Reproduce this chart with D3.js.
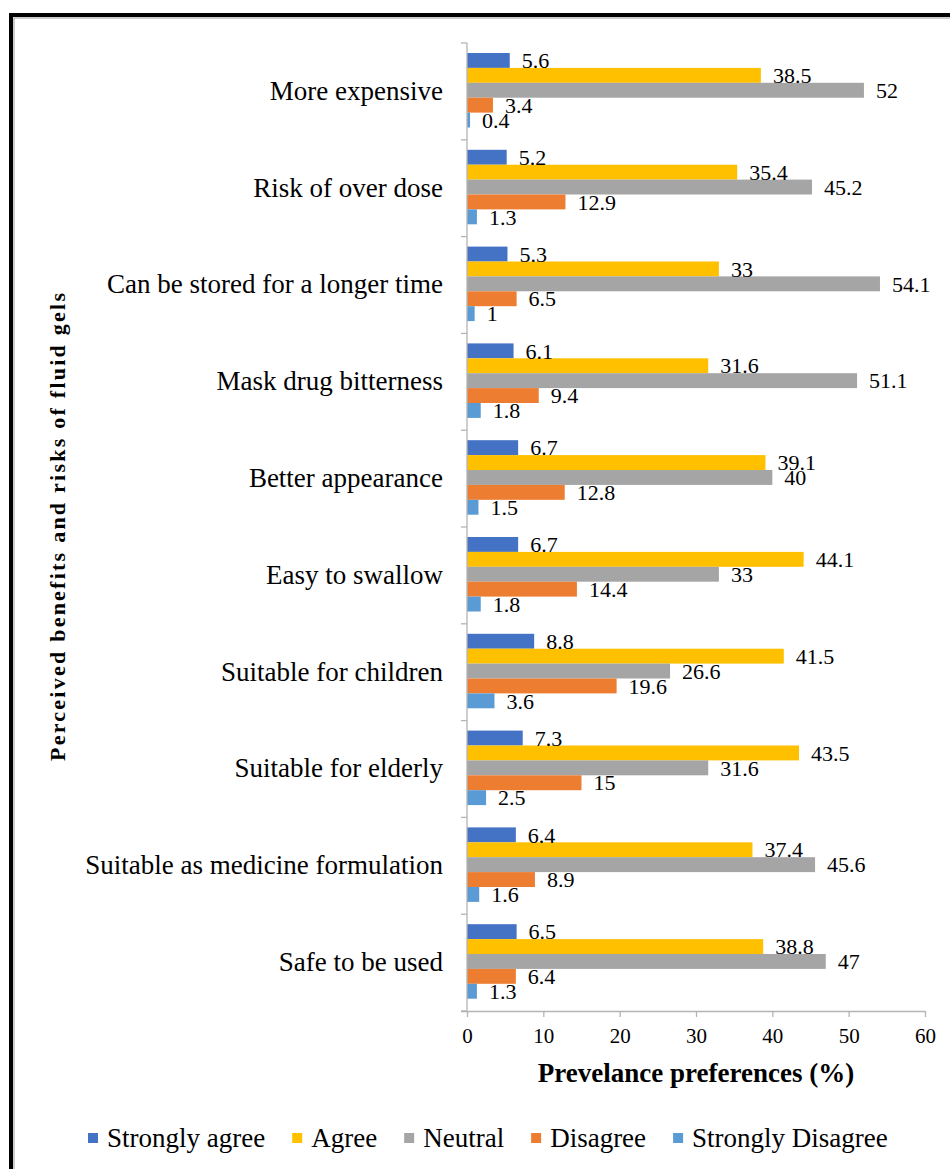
<!DOCTYPE html>
<html>
<head>
<meta charset="utf-8">
<script src="https://cdn.jsdelivr.net/npm/d3@7"></script>
<style>
  html, body { margin: 0; padding: 0; background: #fff; }
  svg { display: block; }
</style>
</head>
<body>
<svg id="chart" width="950" height="1169"></svg>
<script>
// Survey responses: perceived benefits and risks of fluid gels (%)
const categories = [
  "More expensive",
  "Risk of over dose",
  "Can be stored for a longer time",
  "Mask drug bitterness",
  "Better appearance",
  "Easy to swallow",
  "Suitable for children",
  "Suitable for elderly",
  "Suitable as medicine formulation",
  "Safe to be used"
];
const seriesNames = ["Strongly agree", "Agree", "Neutral", "Disagree", "Strongly Disagree"];
const seriesColors = ["#4472C4", "#FFC000", "#A5A5A5", "#ED7D31", "#5B9BD5"];

const stronglyAgree    = [5.6, 5.2, 5.3, 6.1, 6.7, 6.7, 8.8, 7.3, 6.4, 6.5];
const agree            = [38.5, 35.4, 33, 31.6, 39.1, 44.1, 41.5, 43.5, 37.4, 38.8];
const neutral          = [52, 45.2, 54.1, 51.1, 40, 33, 26.6, 31.6, 45.6, 47];
const disagree         = [3.4, 12.9, 6.5, 9.4, 12.8, 14.4, 19.6, 15, 8.9, 6.4];
const stronglyDisagree = [0.4, 1.3, 1, 1.8, 1.5, 1.8, 3.6, 2.5, 1.6, 1.3];

const xTicks = [0, 10, 20, 30, 40, 50, 60];

const seriesValues = [stronglyAgree, agree, neutral, disagree, stronglyDisagree];

const FONT = '"Liberation Serif", "Tinos", "Times New Roman", serif';

const svg = d3.select("#chart");

// outer frame
svg.append("rect")
  .attr("x", 11).attr("y", 15)
  .attr("width", 1000).attr("height", 1200)
  .attr("fill", "none").attr("stroke", "#000").attr("stroke-width", 4);
svg.append("rect")
  .attr("x", 14).attr("y", 18)
  .attr("width", 1000).attr("height", 1200)
  .attr("fill", "none").attr("stroke", "#9a9a9a").attr("stroke-width", 1);

const plot = { left: 467, right: 925, top: 43, bottom: 1011 };

const x = d3.scaleLinear().domain([0, 60]).range([plot.left, plot.right]);
const y = d3.scaleBand().domain(categories).range([plot.top, plot.bottom]).padding(0);
const inner = d3.scaleBand().domain(seriesNames)
  .range([10, y.bandwidth() - 12.3]).padding(0);

const axisColor = "#b4b4b4";

// bars
const groups = svg.append("g").selectAll("g")
  .data(categories)
  .join("g")
  .attr("transform", d => `translate(0,${y(d)})`);

groups.each(function(cat, ci) {
  const g = d3.select(this);
  const rows = seriesNames.map((s, si) => ({ s, si, v: seriesValues[si][ci] }));
  g.selectAll("rect")
    .data(rows)
    .join("rect")
    .attr("x", x(0))
    .attr("y", d => inner(d.s))
    .attr("width", d => x(d.v) - x(0))
    .attr("height", inner.bandwidth())
    .attr("fill", d => seriesColors[d.si]);
  g.selectAll("text.val")
    .data(rows)
    .join("text")
    .attr("class", "val")
    .attr("x", d => x(d.v) + 12)
    .attr("y", d => inner(d.s) + inner.bandwidth() / 2)
    .attr("dy", "0.35em")
    .style("font-family", FONT)
    .style("font-size", "22px")
    .text(d => d.v);
});

// x axis
const xAxis = svg.append("g")
  .attr("transform", `translate(0,${plot.bottom})`)
  .call(d3.axisBottom(x).tickValues(xTicks).tickSize(6).tickPadding(6).tickSizeOuter(0));
xAxis.select(".domain").attr("stroke", axisColor).attr("stroke-width", 1.3)
  .attr("d", `M${plot.left - 6},0.5H${plot.right}`);
xAxis.selectAll(".tick line").attr("stroke", axisColor).attr("stroke-width", 1.3);
xAxis.selectAll(".tick text")
  .style("font-family", FONT).style("font-size", "21px").attr("fill", "#000")
  .attr("dy", "0.95em");

// y axis: line with ticks at category boundaries
const boundaries = categories.map(c => y(c)).concat([y.range()[1]]);
svg.append("line")
  .attr("x1", x(0)).attr("x2", x(0))
  .attr("y1", plot.top).attr("y2", plot.bottom)
  .attr("stroke", axisColor).attr("stroke-width", 1.3);
svg.append("g").selectAll("line")
  .data(boundaries)
  .join("line")
  .attr("x1", x(0) - 6).attr("x2", x(0))
  .attr("y1", d => d).attr("y2", d => d)
  .attr("stroke", axisColor).attr("stroke-width", 1.3);

// category labels
svg.append("g").selectAll("text")
  .data(categories)
  .join("text")
  .attr("x", plot.left - 24)
  .attr("y", d => y(d) + y.bandwidth() / 2 - 1)
  .attr("dy", "0.35em")
  .attr("text-anchor", "end")
  .style("font-family", FONT)
  .style("font-size", "27px")
  .text(d => d);

// axis titles
svg.append("text")
  .attr("x", (plot.left + plot.right) / 2)
  .attr("y", 1082)
  .attr("text-anchor", "middle")
  .style("font-family", FONT)
  .style("font-size", "27px")
  .style("font-weight", "bold")
  .text("Prevelance preferences (%)");

svg.append("text")
  .attr("transform", `translate(65,${(plot.top + plot.bottom) / 2}) rotate(-90)`)
  .attr("text-anchor", "middle")
  .attr("textLength", 468)
  .attr("lengthAdjust", "spacing")
  .style("font-family", FONT)
  .style("font-size", "22px")
  .style("font-weight", "bold")
  .text("Perceived benefits and risks of fluid gels");

// legend
const legend = svg.append("g").attr("transform", "translate(88,1138)");
let lx = 0;
seriesNames.forEach((name, i) => {
  legend.append("rect")
    .attr("x", lx).attr("y", -5)
    .attr("width", 10).attr("height", 10)
    .attr("fill", seriesColors[i]);
  const t = legend.append("text")
    .attr("x", lx + 19).attr("y", 0).attr("dy", "0.35em")
    .style("font-family", FONT)
    .style("font-size", "27px")
    .text(name);
  lx += 19 + t.node().getComputedTextLength() + 27;
});
</script>
</body>
</html>
